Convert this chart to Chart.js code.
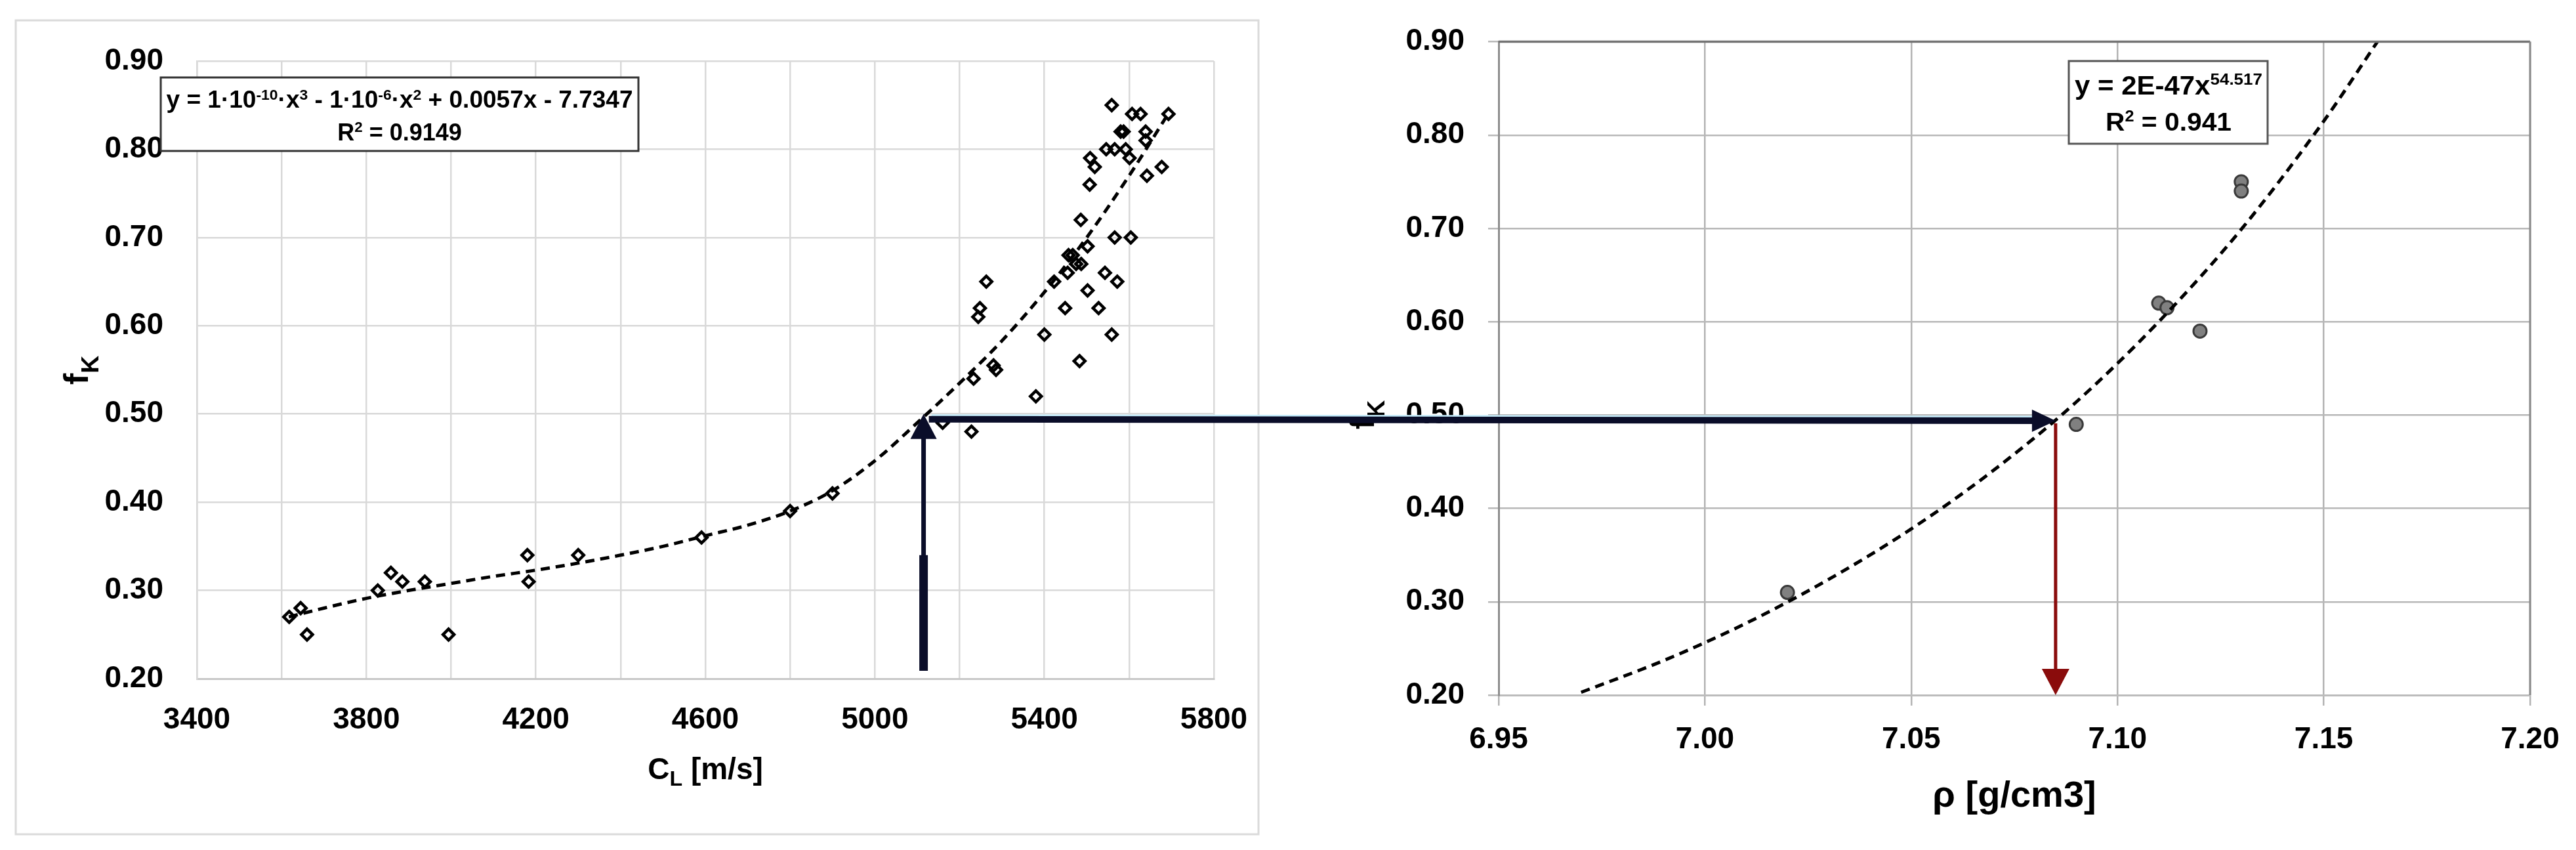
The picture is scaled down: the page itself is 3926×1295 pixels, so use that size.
<!DOCTYPE html>
<html><head><meta charset="utf-8">
<script src="https://cdn.jsdelivr.net/npm/chart.js@4.4.1/dist/chart.umd.min.js"></script>
<style>
html,body{margin:0;padding:0;background:#fff;}
body{width:3926px;height:1295px;position:relative;overflow:hidden;}
canvas{position:absolute;top:0;}
#cL{left:0;} #cR{left:1960px;} #ov{left:0;pointer-events:none;}
</style></head><body>
<canvas id="cL" width="1960" height="1295"></canvas>
<canvas id="cR" width="1966" height="1295"></canvas>
<canvas id="ov" width="3926" height="1295"></canvas>
<script>
// ---------------- DATA ----------------
// Left chart: longitudinal wave velocity C_L [m/s] vs f_K
const cLValues = [3618,3645,3660,3827,3858,3885,3938,3994,4180,4183,4300,4591,4800,4900,
  5160,5228,5233,5286,5280,5380,5483,5400,5559,5449,5528,5248,5244,5263,5502,5423,5572,5455,5543,
  5487,5475,5467,5457,5502,5566,5604,5486,5507,5642,5519,5677,5508,5601,5546,5566,5592,5639,5639,
  5587,5580,5607,5627,5693,5559];
const fKLeftValues = [0.27,0.28,0.25,0.30,0.32,0.31,0.31,0.25,0.34,0.31,0.34,0.36,0.39,0.41,
  0.49,0.48,0.54,0.55,0.555,0.52,0.56,0.59,0.59,0.62,0.62,0.62,0.61,0.65,0.64,0.65,0.65,0.66,0.66,
  0.67,0.67,0.68,0.68,0.69,0.70,0.70,0.72,0.76,0.77,0.78,0.78,0.79,0.79,0.80,0.80,0.80,0.81,0.82,
  0.82,0.82,0.84,0.84,0.84,0.85];
// Left trend line
const cLTrendX = [3617,3700,3800,3900,4000,4100,4200,4300,4400,4500,4600,4700,4800,4900,5000,5100,5200,5300,5400,5500,5600,5692];
const cLTrendY = [0.270,0.280,0.291,0.300,0.308,0.316,0.323,0.331,0.340,0.350,0.362,0.374,0.390,0.413,0.447,0.490,0.535,0.583,0.638,0.700,0.770,0.840];
// Right chart: density rho [g/cm3] vs f_K
const rhoValues = [7.02,7.09,7.11,7.112,7.12,7.13,7.13];
const fKRightValues = [0.31,0.49,0.62,0.615,0.59,0.75,0.74];
const rhoTrendX = [6.970,6.990,7.010,7.030,7.050,7.070,7.090,7.110,7.130,7.150,7.163];
const rhoTrendY = [0.203,0.237,0.277,0.324,0.378,0.441,0.514,0.600,0.699,0.815,0.900];
// Tick labels
const cLTickLabels = ['3400','3800','4200','4600','5000','5400','5800'];
const fKTickLabels = ['0.20','0.30','0.40','0.50','0.60','0.70','0.80','0.90'];
const rhoTickLabels = ['6.95','7.00','7.05','7.10','7.15','7.20'];
// Reading arrows
const arrowCL = 5115, arrowBaseFK = 0.209, arrowThickTopFK = 0.34, arrowTipFK = 0.50;
const arrowFK = 0.494, arrowRho = 7.085;
// Texts
const eqLeft1 = [['y = 1·10',0],['-10',1],['·x',0],['3',1],[' - 1·10',0],['-6',1],['·x',0],['2',1],[' + 0.0057x - 7.7347',0]];
const eqLeft2 = [['R',0],['2',1],[' = 0.9149',0]];
const eqRight1 = [['y = 2E-47x',0],['54.517',1]];
const eqRight2 = [['R',0],['2',1],[' = 0.941',0]];
const titleCL = [['C',0],['L',2],[' [m/s]',0]];
const titleRho = [['ρ [g/cm3]',0]];
const titleFK = [['f',0],['K',2]];

// ---------------- HELPERS ----------------
const FONT = "'Liberation Sans', Arial, sans-serif";
function drawRich(ctx, segs, o) {
  const size = o.size, supS = o.supScale || 0.62, subS = o.subScale || 0.7;
  const supR = o.supRaise != null ? o.supRaise : size * 0.33;
  const subD = o.subDrop != null ? o.subDrop : size * 0.22;
  let w = 0;
  const parts = segs.map(([t, k]) => {
    const fs = k === 1 ? size * supS : k === 2 ? size * subS : size;
    ctx.font = 'bold ' + fs + 'px ' + FONT;
    const mw = ctx.measureText(t).width; w += mw;
    return {t, k, fs, mw};
  });
  const sx = o.fit ? o.fit / w : 1;
  ctx.save();
  ctx.translate(o.x, o.y);
  if (o.rotate) ctx.rotate(o.rotate);
  ctx.translate(-w * sx / 2, 0);
  ctx.scale(sx, 1);
  ctx.textAlign = 'left'; ctx.textBaseline = 'alphabetic'; ctx.fillStyle = o.color || '#000';
  let x = 0;
  for (const p of parts) {
    ctx.font = 'bold ' + p.fs + 'px ' + FONT;
    const dy = p.k === 1 ? -supR : p.k === 2 ? subD : 0;
    ctx.fillText(p.t, x, dy);
    x += p.mw;
  }
  ctx.restore();
}
function box(ctx, x0, y0, x1, y1, color, lw) {
  ctx.save();
  ctx.fillStyle = '#fff'; ctx.fillRect(x0, y0, x1 - x0, y1 - y0);
  ctx.strokeStyle = color; ctx.lineWidth = lw; ctx.strokeRect(x0, y0, x1 - x0, y1 - y0);
  ctx.restore();
}
const tickFont = {family: FONT, size: 46, weight: 'bold'};

// ---------------- LEFT CHART ----------------
const leftDeco = {
  id: 'leftDeco',
  afterDraw(chart) {
    const ctx = chart.ctx;
    ctx.save();
    ctx.strokeStyle = '#dadada'; ctx.lineWidth = 3;
    ctx.strokeRect(24, 31, 1918 - 24, 1271 - 31);
    ctx.restore();
    box(ctx, 245, 118, 973, 230, '#333', 3);
    drawRich(ctx, eqLeft1, {x: 609, y: 164, size: 36, fit: 711, supRaise: 12});
    drawRich(ctx, eqLeft2, {x: 609, y: 214, size: 36, supRaise: 13});
    const ca = chart.chartArea;
    drawRich(ctx, titleCL, {x: (ca.left + ca.right) / 2, y: 1187, size: 46, subScale: 0.7, subDrop: 10});
    drawRich(ctx, titleFK, {x: 134, y: 564, size: 52, subScale: 0.72, subDrop: 16, rotate: -Math.PI / 2});
  }
};
const chartL = new Chart(document.getElementById('cL'), {
  type: 'scatter',
  data: {datasets: [
    {type: 'line', data: cLTrendX.map((x, i) => ({x, y: cLTrendY[i]})), borderColor: '#000', borderWidth: 5,
     borderDash: [14, 9], pointRadius: 0, fill: false, cubicInterpolationMode: 'monotone', order: 0},
    {data: cLValues.map((x, i) => ({x, y: fKLeftValues[i]})), pointStyle: 'rectRot', pointRadius: 8.5,
     borderWidth: 4.5, borderColor: '#000', backgroundColor: 'rgba(0,0,0,0)', order: 1}
  ]},
  options: {
    responsive: false, animation: false, devicePixelRatio: 1, events: [],
    layout: {padding: {left: 100, right: 110, top: 93, bottom: 141}},
    plugins: {legend: {display: false}, tooltip: {enabled: false}},
    scales: {
      x: {type: 'linear', min: 3400, max: 5800, afterFit: s => { s.height = 120; },
          grid: {color: '#d9d9d9', lineWidth: 2.5, drawTicks: false},
          border: {color: '#c8c8c8', width: 3},
          ticks: {stepSize: 200, autoSkip: false, maxRotation: 0, padding: 36, color: '#000', font: tickFont,
                  callback: v => cLTickLabels.includes(String(v)) ? String(v) : ''}},
      y: {type: 'linear', min: 0.2, max: 0.9, afterFit: s => { s.width = 200; },
          grid: {color: '#d9d9d9', lineWidth: 2.5, drawTicks: false},
          border: {color: '#d9d9d9', width: 2.5},
          ticks: {stepSize: 0.1, padding: 51, color: '#000', font: tickFont,
                  callback: (v, i) => fKTickLabels[i] !== undefined ? fKTickLabels[i] : v.toFixed(2)}}
    }
  },
  plugins: [leftDeco]
});

// ---------------- RIGHT CHART ----------------
const rightDeco = {
  id: 'rightDeco',
  afterDraw(chart) {
    const ctx = chart.ctx;
    const ca = chart.chartArea;
    ctx.save();
    ctx.strokeStyle = '#747474'; ctx.lineWidth = 3.5;
    ctx.beginPath(); ctx.moveTo(ca.left, ca.top); ctx.lineTo(ca.right, ca.top); ctx.stroke();
    ctx.strokeStyle = '#8a8a8a'; ctx.lineWidth = 3;
    ctx.beginPath(); ctx.moveTo(ca.right, ca.top); ctx.lineTo(ca.right, ca.bottom); ctx.stroke();
    ctx.restore();
    box(ctx, 1193, 93, 1496, 219, '#555', 3);
    drawRich(ctx, eqRight1, {x: 1345, y: 144, size: 40, fit: 286, supRaise: 15});
    drawRich(ctx, eqRight2, {x: 1345, y: 199, size: 38, fit: 192, supRaise: 14});
    drawRich(ctx, titleRho, {x: (ca.left + ca.right) / 2, y: 1229, size: 56});
    drawRich(ctx, titleFK, {x: 134, y: 632, size: 52, subScale: 0.72, subDrop: 16, rotate: -Math.PI / 2});
  }
};
const chartR = new Chart(document.getElementById('cR'), {
  type: 'scatter',
  data: {datasets: [
    {type: 'line', data: rhoTrendX.map((x, i) => ({x, y: rhoTrendY[i]})), borderColor: '#000', borderWidth: 5,
     borderDash: [14, 9], pointRadius: 0, fill: false, cubicInterpolationMode: 'monotone', order: 0},
    {data: rhoValues.map((x, i) => ({x, y: fKRightValues[i]})), pointStyle: 'circle', pointRadius: 10,
     borderWidth: 3, borderColor: '#3a3a3a', backgroundColor: '#808080', order: 1}
  ]},
  options: {
    responsive: false, animation: false, devicePixelRatio: 1, events: [],
    layout: {padding: {left: 124, right: 70, top: 60, bottom: 116}},
    plugins: {legend: {display: false}, tooltip: {enabled: false}},
    scales: {
      x: {type: 'linear', min: 6.95, max: 7.20, afterFit: s => { s.height = 120; },
          grid: {color: '#b3b3b3', lineWidth: 2.5, drawTicks: true, tickLength: 16, tickColor: '#b3b3b3'},
          border: {color: '#bcbcbc', width: 3},
          ticks: {stepSize: 0.05, autoSkip: false, maxRotation: 0, padding: 25, color: '#000', font: tickFont,
                  callback: (v, i) => rhoTickLabels[i] !== undefined ? rhoTickLabels[i] : v.toFixed(2)}},
      y: {type: 'linear', min: 0.2, max: 0.9, afterFit: s => { s.width = 200; },
          grid: {color: '#b8b8b8', lineWidth: 2.5, drawTicks: true, tickLength: 16, tickColor: '#b8b8b8'},
          border: {color: '#8e8e8e', width: 3},
          ticks: {stepSize: 0.1, padding: 36, color: '#000', font: tickFont,
                  callback: (v, i) => fKTickLabels[i] !== undefined ? fKTickLabels[i] : v.toFixed(2)}}
    }
  },
  plugins: [rightDeco]
});

// ---------------- ARROWS (overlay across both charts) ----------------
function drawOverlay() {
  const ov = document.getElementById('ov').getContext('2d');
  const offL = 0, offR = 1960;
  const sxL = chartL.scales.x, syL = chartL.scales.y, sxR = chartR.scales.x, syR = chartR.scales.y;
  const xA = sxL.getPixelForValue(arrowCL) + offL;
  const yBase = syL.getPixelForValue(arrowBaseFK);
  const yThick = syL.getPixelForValue(arrowThickTopFK);
  const yTip = syL.getPixelForValue(arrowTipFK);
  const yH = syL.getPixelForValue(arrowFK);
  const xR = sxR.getPixelForValue(arrowRho) + offR;
  const yRH = syR.getPixelForValue(arrowFK);
  const yRB = syR.getPixelForValue(0.20);
  const navy = '#0a0d29', red = '#8a0c0c';
  ov.lineCap = 'butt';
  // vertical navy arrow (left chart)
  ov.strokeStyle = navy;
  ov.lineWidth = 13; ov.beginPath(); ov.moveTo(xA, yBase); ov.lineTo(xA, yThick); ov.stroke();
  ov.lineWidth = 7; ov.beginPath(); ov.moveTo(xA, yThick + 2); ov.lineTo(xA, yTip + 30); ov.stroke();
  ov.fillStyle = navy;
  ov.beginPath(); ov.moveTo(xA, yTip); ov.lineTo(xA + 20, yTip + 38); ov.lineTo(xA - 20, yTip + 38); ov.closePath(); ov.fill();
  // horizontal navy arrow
  ov.strokeStyle = '#c4ebfa'; ov.lineWidth = 3;
  ov.beginPath(); ov.moveTo(xA + 12, yH - 6); ov.lineTo(xR - 34, yRH - 6); ov.stroke();
  ov.strokeStyle = navy; ov.lineWidth = 10;
  ov.beginPath(); ov.moveTo(xA + 8, yH); ov.lineTo(xR - 30, yRH); ov.stroke();
  ov.beginPath(); ov.moveTo(xR, yRH); ov.lineTo(xR - 36, yRH - 17); ov.lineTo(xR - 36, yRH + 17); ov.closePath(); ov.fill();
  // red vertical arrow (right chart)
  ov.strokeStyle = red; ov.lineWidth = 5;
  ov.beginPath(); ov.moveTo(xR, yRH + 4); ov.lineTo(xR, yRB - 36); ov.stroke();
  ov.fillStyle = red;
  ov.beginPath(); ov.moveTo(xR, yRB); ov.lineTo(xR - 21, yRB - 40); ov.lineTo(xR + 21, yRB - 40); ov.closePath(); ov.fill();
}
drawOverlay();
</script>
</body></html>
